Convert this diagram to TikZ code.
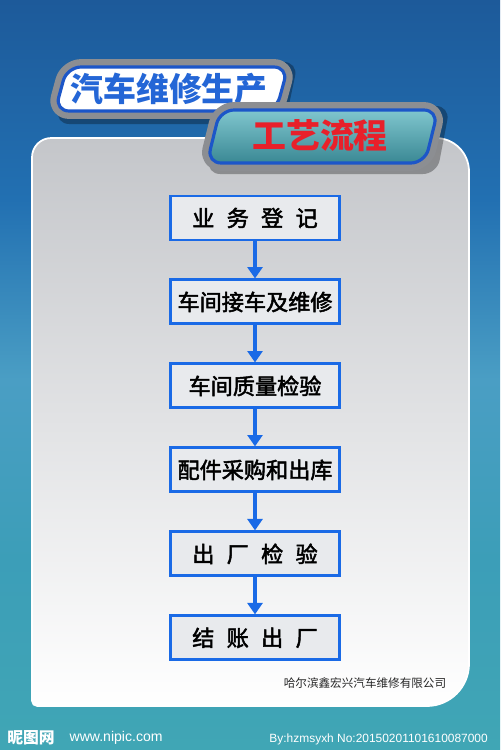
\documentclass[tikz,border=0pt]{standalone}
\usepackage{fontspec}
\setmainfont{Liberation Sans}
\newfontfamily\cjk{Noto Sans CJK SC}
\newfontfamily\cjkmid{Noto Sans CJK SC}[FakeBold=2.2]
\usepackage{tikz}
\usetikzlibrary{positioning, arrows.meta}
\definecolor{bgtop}{HTML}{1D5A9A}
\definecolor{bghigh}{HTML}{2270B2}
\definecolor{bgmid}{HTML}{4A9EC4}
\definecolor{bglow}{HTML}{3C9EB8}
\definecolor{bgbot}{HTML}{40A6B5}
\definecolor{panelgray}{HTML}{C4C6CA}
\definecolor{panelmid}{HTML}{E4E5E7}
\definecolor{flowblue}{HTML}{1A6AE6}
\definecolor{boxgray}{HTML}{E8EAED}
\definecolor{rimgray}{HTML}{8C8E92}
\definecolor{plateblue}{HTML}{1C56C8}
\definecolor{titleblue}{HTML}{2466D6}
\definecolor{titlered}{HTML}{E8202A}
\definecolor{tealtop}{HTML}{80C6CE}
\definecolor{tealmid}{HTML}{50A0AC}
\definecolor{tealbot}{HTML}{3A8894}
\pgfdeclareverticalshading{bgshade}{100bp}{color(0bp)=(bgbot); color(25bp)=(bgbot); color(37.7bp)=(bglow); color(49.7bp)=(bgmid); color(61.7bp)=(bghigh); color(75bp)=(bgtop); color(100bp)=(bgtop)}
\newcommand{\flowfont}{\cjkmid\fontsize{12.6}{15}\selectfont\spaceskip=7pt\relax}
\tikzstyle{flowbox} = [draw=flowblue, line width=1.7pt, fill=boxgray, minimum width=3.4cm, minimum height=0.88cm, inner sep=0pt, font=\flowfont]
\tikzstyle{arrowline} = [draw=flowblue, line width=2.3pt, -{Triangle[width=8.5pt,length=6.5pt]}]
\tikzstyle{platerim} = [draw=rimgray, line width=9pt, rounded corners=8pt, line join=round]
\tikzstyle{plateedge} = [draw=plateblue, line width=1.8pt, rounded corners=8pt]
\tikzstyle{plateshadow} = [fill=black, opacity=.3, rounded corners=8pt]
\begin{document}
\begin{tikzpicture}[x=0.02cm, y=-0.02cm, node distance=0.74cm]
\useasboundingbox (0,0) rectangle (500,750);
\shade[shading=bgshade] (0,0) rectangle (500,750);
\shade[top color=panelgray, middle color=panelmid, bottom color=white, draw=white, line width=1pt] (32,420) [rounded corners=11pt] -- (32,138) [rounded corners=19pt] -- (469,138) [rounded corners=24pt] -- (469,706) [rounded corners=3pt] -- (32,706) -- cycle;
\fill[plateshadow] (70,62) -- (298,62) -- (285,124) -- (55,124) -- cycle;
\draw[platerim] (67,67) -- (288,67) -- (276,111) -- (55,111) -- cycle;
\draw[plateedge, fill=white] (67,67) -- (288,67) -- (276,111) -- (55,111) -- cycle;
\node[font=\cjk\bfseries\fontsize{18.7}{22}\selectfont, text=titleblue] (chexiu) at (169,89) {汽车维修生产};
\fill[plateshadow] (222,106) -- (450,106) -- (437,174) -- (206,174) -- cycle;
\draw[platerim] (220,110) -- (438,110) -- (425,163) -- (207,163) -- cycle;
\shadedraw[plateedge, top color=tealtop, middle color=tealmid, bottom color=tealbot] (220,110) -- (438,110) -- (425,163) -- (207,163) -- cycle;
\node[font=\cjk\bfseries\fontsize{19.3}{23}\selectfont, text=titlered] (gongyi) at (320,136) {工艺流程};
\node[flowbox] (dengji) at (255,218) {业 务 登 记};
\node[flowbox, below=of dengji] (jieche) {车间接车及维修};
\node[flowbox, below=of jieche] (zhijian) {车间质量检验};
\node[flowbox, below=of zhijian] (peijian) {配件采购和出库};
\node[flowbox, below=of peijian] (chuchang) {出 厂 检 验};
\node[flowbox, below=of chuchang] (jiezhang) {结 账 出 厂};
\draw[arrowline] (dengji) -- (jieche);
\draw[arrowline] (jieche) -- (zhijian);
\draw[arrowline] (zhijian) -- (peijian);
\draw[arrowline] (peijian) -- (chuchang);
\draw[arrowline] (chuchang) -- (jiezhang);
\node[font=\cjk\fontsize{6.6}{8}\selectfont, text=black!85] (gongsi) at (365,683) {哈尔滨鑫宏兴汽车维修有限公司};
\node[font=\cjk\bfseries\fontsize{9}{11}\selectfont, text=white] (nitu) at (31,738) {昵图网};
\node[font=\fontsize{8}{10}\selectfont, text=white, right=0.05cm of nitu] (nipic) {www.nipic.com};
\node[font=\fontsize{6.8}{8}\selectfont, text=white, anchor=east] (byline) at (494,739) {By:hzmsyxh No:20150201101610087000};
\end{tikzpicture}
\end{document}
